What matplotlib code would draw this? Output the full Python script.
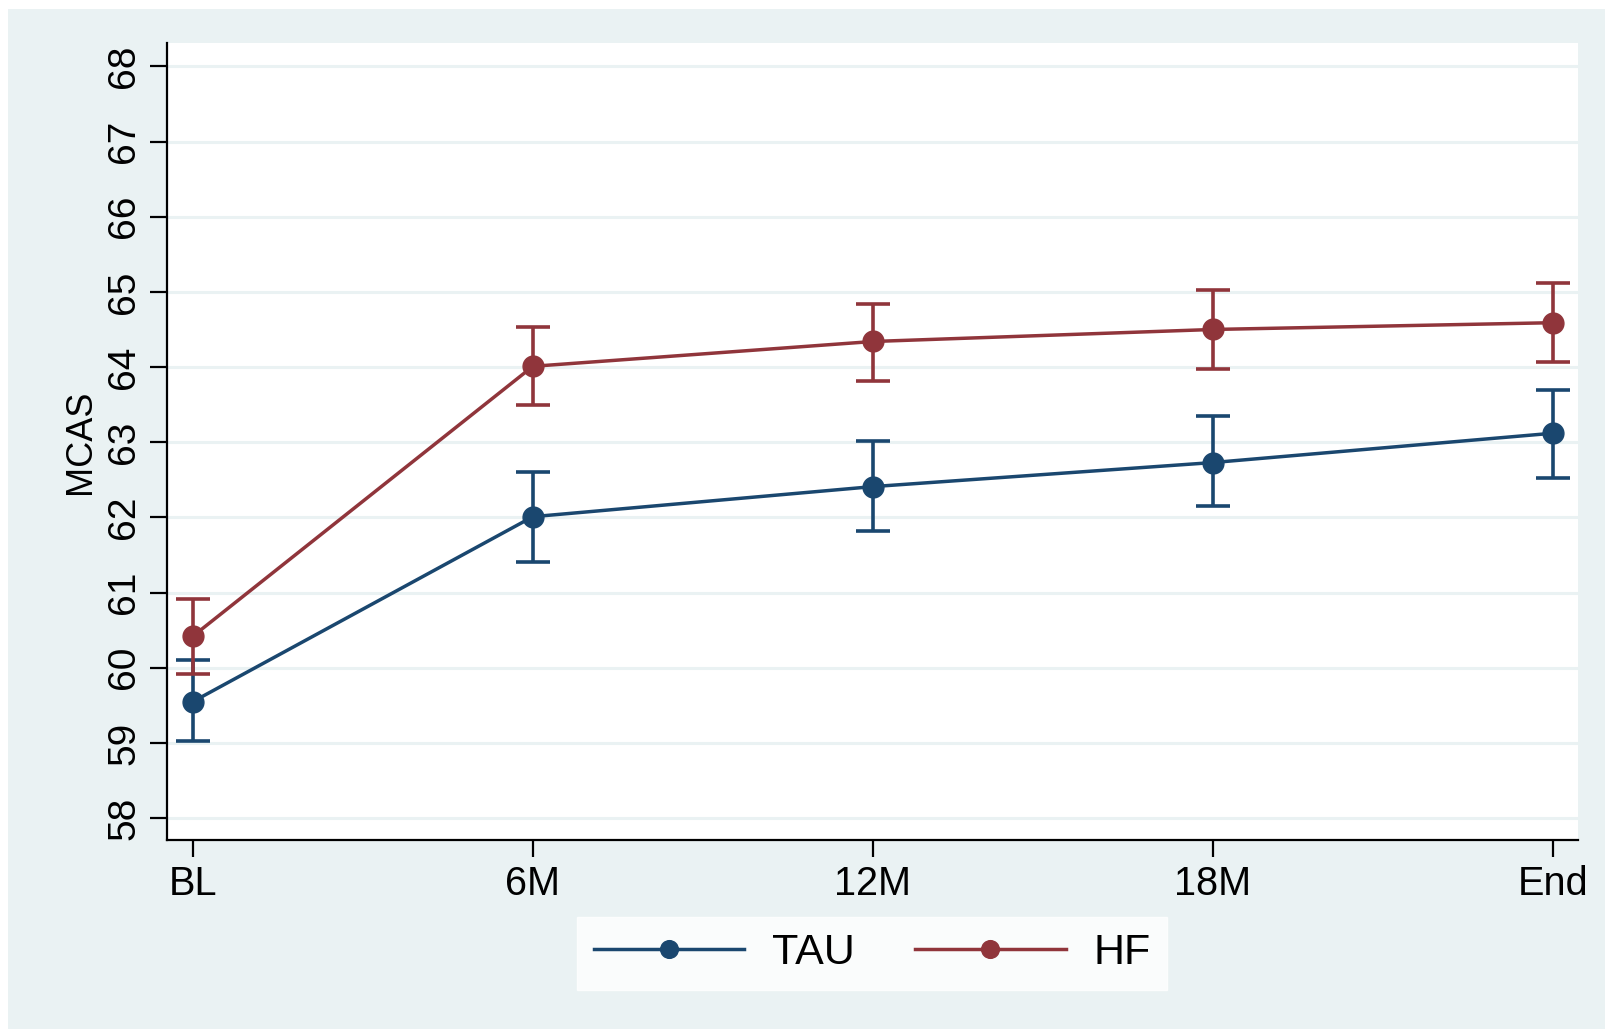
import matplotlib
matplotlib.use("Agg")
import matplotlib.pyplot as plt
from matplotlib.patches import Rectangle

plt.rcParams['font.family'] = ['Liberation Sans', 'DejaVu Sans']

# time points and MCAS means with 95% CI bounds
waves = ['BL', '6M', '12M', '18M', 'End']
tau_mean = [59.55, 62.01, 62.41, 62.73, 63.12]
tau_low = [59.02, 61.41, 61.82, 62.15, 62.53]
tau_high = [60.10, 62.60, 63.01, 63.35, 63.70]
hf_mean = [60.42, 64.01, 64.34, 64.50, 64.59]
hf_low = [59.92, 63.50, 63.81, 63.97, 64.07]
hf_high = [60.91, 64.53, 64.84, 65.02, 65.12]

navy = '#1a476f'
maroon = '#90353b'
bg = '#eaf2f3'

fig = plt.figure(figsize=(16.06, 10.29), dpi=100)
fig.patch.set_facecolor('white')
fig.patches.append(Rectangle((8 / 1606, 0), 1, 1 - 9 / 1029, transform=fig.transFigure,
                             facecolor=bg, edgecolor='none', zorder=-10))

ax = fig.add_axes([0.104, 0.1837, 0.8786, 0.7745])
ax.set_facecolor('white')
x = list(range(len(waves)))

def draw(mean, low, high, color, label):
    err = [[m - l for m, l in zip(mean, low)], [h - m for m, h in zip(mean, high)]]
    ax.errorbar(x, mean, yerr=err, fmt='none', ecolor=color, elinewidth=2.6,
                capsize=12, capthick=2.6, zorder=3)
    ax.plot(x, mean, color=color, lw=2.5, marker='o', markersize=15, label=label, zorder=4)

draw(tau_mean, tau_low, tau_high, navy, 'TAU')
draw(hf_mean, hf_low, hf_high, maroon, 'HF')

ax.set_xlim(-0.076, 4.074)
ax.set_ylim(57.71, 68.31)
ax.set_yticks(range(58, 69))
ax.set_xticks(x)
ax.set_xticklabels(waves)
ax.grid(axis='y', color=bg, lw=2.2, zorder=0)
ax.set_axisbelow(True)
for s in ['top', 'right']:
    ax.spines[s].set_visible(False)
for s in ['left', 'bottom']:
    ax.spines[s].set_linewidth(1.6)
ax.tick_params(axis='both', length=12, width=1.6, pad=6)
ax.tick_params(axis='x', labelsize=28.5)
ax.tick_params(axis='y', labelsize=28)
for t in ax.get_yticklabels():
    t.set_rotation(90)
    t.set_va('center')
ax.set_ylabel('MCAS', fontsize=26, labelpad=6)

leg = fig.legend(loc='center', bbox_to_anchor=(0.543, 0.0734), ncol=2, fontsize=31,
                 frameon=True, fancybox=False, handlelength=3.5, columnspacing=1.4,
                 handletextpad=0.64, borderpad=0.38, markerscale=0.85)
leg.get_frame().set_facecolor('white')
leg.get_frame().set_edgecolor('white')

fig.savefig('out.png', dpi=100, facecolor=fig.get_facecolor())
